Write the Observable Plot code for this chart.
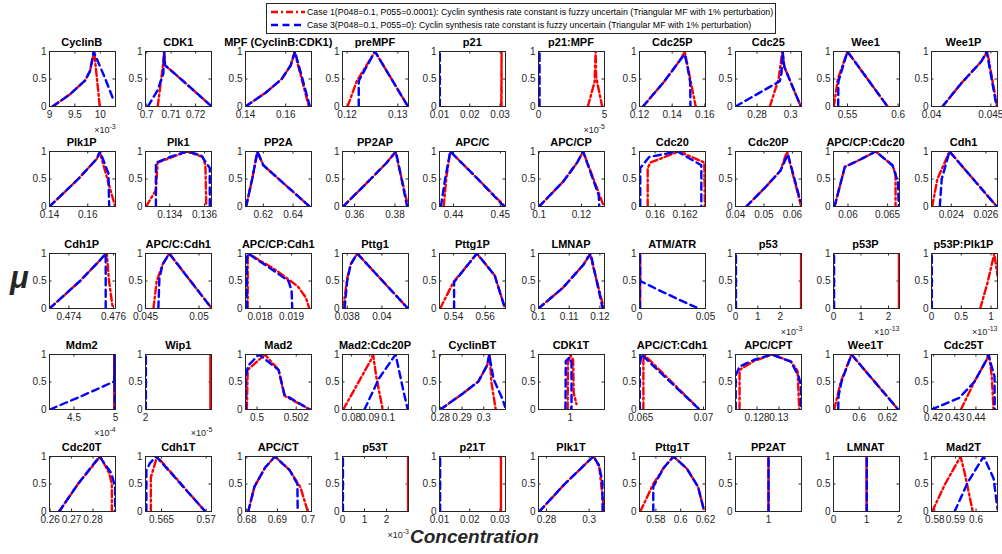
<!DOCTYPE html>
<html><head><meta charset="utf-8">
<script src="https://cdn.jsdelivr.net/npm/d3@7"></script>
<script src="https://cdn.jsdelivr.net/npm/@observablehq/plot@0.6"></script>
<style>
body{margin:0;background:#fff;}
#fig{position:relative;width:1002px;height:554px;overflow:hidden;background:#fff;font-family:"Liberation Sans",Arial,sans-serif;}
.ttl{position:absolute;font-weight:bold;font-size:11px;color:#000;white-space:nowrap;transform:translateX(-50%);line-height:11px;}
.exp{position:absolute;font-size:9px;color:#262626;white-space:nowrap;transform:translateX(-100%);line-height:9px;}
.exp sup{font-size:7px;vertical-align:4px;line-height:0;}
#legend{position:absolute;left:266px;top:3px;width:508px;height:29px;border:1px solid #262626;background:#fff;}
.lrow{position:absolute;left:0;font-size:8.8px;color:#000;white-space:nowrap;line-height:10px;}
.lrow svg{position:absolute;left:3px;top:0;}
.lrow span{position:absolute;left:40px;top:0;}
</style></head><body><div id="fig"></div>
<script>
// ---------- data ----------
const titles = ["CyclinB","CDK1","MPF (CyclinB:CDK1)","preMPF","p21","p21:MPF","Cdc25P","Cdc25","Wee1","Wee1P",
"Plk1P","Plk1","PP2A","PP2AP","APC/C","APC/CP","Cdc20","Cdc20P","APC/CP:Cdc20","Cdh1",
"Cdh1P","APC/C:Cdh1","APC/CP:Cdh1","Pttg1","Pttg1P","LMNAP","ATM/ATR","p53","p53P","p53P:Plk1P",
"Mdm2","Wip1","Mad2","Mad2:Cdc20P","CyclinBT","CDK1T","APC/CT:Cdh1","APC/CPT","Wee1T","Cdc25T",
"Cdc20T","Cdh1T","APC/CT","p53T","p21T","Plk1T","Pttg1T","PP2AT","LMNAT","Mad2T"];

const xDomains = [[9,10.3],[0.6995,0.7265],[0.14,0.1728],[0.1191,0.1321],[0.01,0.0318],[0,5],[0.12,0.1604],[0.2672,0.3064],[0.5362,0.6013],[0.04,0.04556],
[0.14,0.1745],[0.1326,0.1364],[0.608,0.6524],[0.354,0.3867],[0.437,0.4511],[0.0997,0.1309],[0.15895,0.16338],[0.04,0.0632],[0.05817,0.0665],[0.02286,0.02667],
[0.47313,0.47609],[0.045,0.05117],[0.01754,0.01963],[0.03773,0.04153],[0.5312,0.5728],[0.1,0.1215],[0,0.05],[0,2.95],[0,2.4],[0,1.11],
[4.205,5.0],[2,2.9],[0.49941,0.50278],[0.0752,0.111],[0.2796,0.31],[0.971,1.031],[0.0649,0.07016],[0.12603,0.13206],[0.5819,0.6285],[0.419,0.4502],
[0.2597,0.2905],[0.5632,0.5706],[0.6796,0.7011],[0,3.0],[0.01,0.0318],[0.2762,0.3072],[0.5668,0.62],[0.5,1.5],[0,2],[0.5784,0.6104]];

const xTicks = [[9,9.5,10],[0.7,0.71,0.72],[0.14,0.16],[0.12,0.13],[0.01,0.02,0.03],[0,5],[0.12,0.14,0.16],[0.28,0.3],[0.55,0.6],[0.04,0.045],
[0.14,0.16],[0.134,0.136],[0.62,0.64],[0.36,0.38],[0.44,0.45],[0.1,0.12],[0.16,0.162],[0.04,0.05,0.06],[0.06,0.065],[0.024,0.026],
[0.474,0.476],[0.045,0.05],[0.018,0.019],[0.038,0.04],[0.54,0.56],[0.1,0.11,0.12],[0,0.05],[0,1,2],[0,1,2],[0,0.5,1],
[4.5,5],[2],[0.5,0.502],[0.08,0.09,0.1],[0.28,0.29,0.3],[1],[0.065,0.07],[0.128,0.13],[0.6,0.62],[0.42,0.43,0.44],
[0.26,0.27,0.28],[0.565,0.57],[0.68,0.69,0.7],[0,1,2],[0.01,0.02,0.03],[0.28,0.3],[0.58,0.6,0.62],[1],[0,1,2],[0.58,0.59,0.6]];

// axis multiplier exponent (×10^e), null if none
const exponents = [-3,null,null,null,null,-5,null,null,null,null,
null,null,null,null,null,null,null,null,null,null,
null,null,null,null,null,null,null,-3,-13,-13,
-4,-5,null,null,null,null,null,null,null,null,
null,null,null,-3,null,null,null,null,null,null];

const muTicks = [0,0.5,1];

// Case 1 (red dash-dot): [concentration, mu]
const case1 = [
[[9.06,0],[9.4,0.22],[9.7,0.47],[9.8,0.65],[9.88,1],[9.99,0]],
[[0.7045,0],[0.7065,0.7],[0.7072,1],[0.7075,0.75],[0.7165,0.4],[0.7266,0]],
[[0.14,0],[0.15,0.25],[0.158,0.5],[0.1625,0.75],[0.1643,1],[0.1715,0]],
[[0.1201,0],[0.1219,0.46],[0.1255,1],[0.132,0]],
[[0.0304,0],[0.0305,1],[0.0305,0]],
[[3.74,0],[4.25,0.45],[4.33,1],[4.36,0.55],[4.82,0]],
[[0.1221,0],[0.135,0.45],[0.145,0.85],[0.1477,1],[0.1544,0]],
[[0.2876,0],[0.2928,0.5],[0.295,1],[0.2962,0.72],[0.306,0]],
[[0.5365,0],[0.5405,0.5],[0.55,1],[0.5895,0]],
[[0.04093,0],[0.0425,0.42],[0.0442,0.82],[0.0447,1],[0.04553,0]],
[[0.14,0],[0.155,0.5],[0.1648,0.87],[0.1662,1],[0.1743,0]],
[[0.13264,0],[0.1332,0.3],[0.1333,0.8],[0.134,0.88],[0.135,1],[0.1359,0.9],[0.13605,0.75],[0.1361,0]],
[[0.6084,0],[0.6125,0.5],[0.616,1],[0.62,0.75],[0.6511,0]],
[[0.3543,0],[0.368,0.5],[0.376,0.8],[0.3802,1],[0.3865,0]],
[[0.4379,0],[0.4385,0.55],[0.4393,1],[0.4452,0.5],[0.451,0]],
[[0.1,0],[0.1113,0.45],[0.118,0.8],[0.1208,1],[0.1306,0]],
[[0.1595,0],[0.1595,0.7],[0.15968,0.8],[0.1616,1],[0.1633,0.8],[0.16334,0]],
[[0.0438,0],[0.0505,0.35],[0.0558,0.65],[0.0581,1],[0.0631,0]],
[[0.0583,0],[0.0596,0.72],[0.0615,0.85],[0.0635,1],[0.0656,0.75],[0.066,0.6],[0.066,0]],
[[0.0229,0],[0.0232,0.5],[0.0239,1],[0.02663,0]],
[[0.47313,0],[0.4745,0.5],[0.4754,0.88],[0.4757,1],[0.4758,0.5],[0.47597,0]],
[[0.04574,0],[0.04605,0.5],[0.0466,0.8],[0.04722,1],[0.0512,0]],
[[0.01761,0],[0.01761,0.9],[0.01763,1],[0.0185,0.7],[0.0192,0.4],[0.01945,0.2],[0.01956,0]],
[[0.03777,0],[0.038,0.55],[0.0382,0.8],[0.03858,1],[0.0415,0]],
[[0.5316,0],[0.54,0.48],[0.5548,1],[0.566,0.6],[0.5725,0]],
[[0.1,0],[0.108,0.38],[0.1147,0.8],[0.1167,1],[0.1213,0]],
[[0.0005,0],[0.0005,1],[0.0005,0]],
[[2.93,0],[2.93,1],[2.93,0]],
[[2.38,0],[2.38,1],[2.38,0]],
[[0.82,0],[0.95,0.5],[1.056,1],[1.11,0.6]],
[[4.985,0],[4.985,1],[4.985,0]],
[[2.885,0],[2.885,1],[2.885,0]],
[[0.49948,0],[0.49952,0.72],[0.5004,1],[0.5011,0.72],[0.5014,0.25],[0.5027,0]],
[[0.0756,0],[0.0906,0.9],[0.0918,1],[0.0935,0.6],[0.097,0]],
[[0.28,0],[0.29,0.28],[0.2975,0.51],[0.3015,0.8],[0.3027,1],[0.3035,0.5],[0.3055,0]],
[[0.9975,0],[0.9978,0.85],[1.0,1],[1.0025,0.9],[1.003,0.3],[1.0055,0.1]],
[[0.06521,0],[0.06521,0.9],[0.06525,1],[0.06968,0]],
[[0.1264,0],[0.1264,0.72],[0.1277,0.88],[0.1294,1],[0.1311,0.87],[0.1317,0.7],[0.13185,0]],
[[0.5824,0],[0.587,0.5],[0.5946,1],[0.6276,0]],
[[0.4329,0],[0.4392,0.5],[0.445,0.9],[0.4462,1],[0.4475,0.6],[0.4483,0]],
[[0.2642,0],[0.273,0.5],[0.2834,1],[0.2875,0.7],[0.2888,0.5],[0.2888,0]],
[[0.5638,0],[0.5638,0.62],[0.5645,1],[0.5699,0]],
[[0.6805,0],[0.6825,0.45],[0.686,0.8],[0.6892,1],[0.694,0.75],[0.6975,0.44],[0.6999,0]],
[[2.98,0],[2.98,1],[2.98,0]],
[[0.0303,0],[0.0303,1],[0.0303,0]],
[[0.2766,0],[0.2885,0.5],[0.3006,0.95],[0.3022,1],[0.3048,0.8],[0.307,0]],
[[0.5674,0],[0.5779,0.5],[0.5865,0.8],[0.5942,1],[0.605,0.78],[0.614,0.45],[0.619,0]],
[[1,0],[1,1],[1,0]],
[[1,0],[1,1],[1,0]],
[[0.5787,0],[0.585,0.5],[0.5925,1],[0.5945,0.7],[0.5984,0]]
];

// Case 3 (blue dashed): [concentration, mu]
const case3 = [
[[9.06,0],[9.4,0.22],[9.7,0.47],[9.8,0.65],[9.87,1],[10.1,0.5],[10.27,0.1]],
[[0.7005,0],[0.7045,0.3],[0.7068,0.6],[0.7071,1],[0.7075,0.75],[0.7165,0.4],[0.7266,0]],
[[0.14,0],[0.15,0.25],[0.158,0.5],[0.1625,0.75],[0.1646,1],[0.172,0]],
[[0.1223,0],[0.1223,0.46],[0.1225,0.5],[0.1255,1],[0.132,0]],
[[0.0101,0],[0.0101,1],[0.0101,0]],
[[0.08,0],[0.08,1],[0.08,0]],
[[0.1221,0],[0.135,0.45],[0.145,0.85],[0.1477,0.95],[0.1495,0.7],[0.151,0.45],[0.1512,0]],
[[0.2672,0],[0.2935,0.46],[0.2945,0.6],[0.2952,1],[0.2962,0.72],[0.306,0]],
[[0.5408,0],[0.541,0.45],[0.55,1],[0.5895,0]],
[[0.04093,0],[0.0425,0.42],[0.0442,0.82],[0.04465,1],[0.0454,0.1],[0.04548,0]],
[[0.14,0],[0.155,0.5],[0.1648,0.87],[0.1664,1],[0.1708,0.6],[0.1712,0]],
[[0.1332,0],[0.1332,0.8],[0.1334,0.82],[0.134,0.9],[0.135,1],[0.1358,0.93],[0.1363,0.7],[0.1363,0]],
[[0.6084,0],[0.6125,0.5],[0.616,1],[0.62,0.75],[0.6511,0]],
[[0.3543,0],[0.368,0.5],[0.376,0.8],[0.3805,1],[0.386,0]],
[[0.4373,0],[0.4382,0.5],[0.4393,1],[0.4452,0.5],[0.4508,0]],
[[0.1,0],[0.1113,0.45],[0.118,0.8],[0.1208,1],[0.1282,0.2],[0.1284,0]],
[[0.159,0],[0.159,0.7],[0.1596,0.9],[0.1615,1],[0.1631,0.75],[0.1631,0]],
[[0.0438,0],[0.0505,0.35],[0.0558,0.65],[0.0584,0.95],[0.0628,0.1]],
[[0.0583,0],[0.0596,0.72],[0.0615,0.85],[0.0635,1],[0.0656,0.75],[0.0663,0.45],[0.0664,0]],
[[0.02334,0],[0.02345,0.5],[0.0239,1],[0.02663,0]],
[[0.47313,0],[0.4745,0.5],[0.4754,0.88],[0.47565,1],[0.47565,0]],
[[0.0462,0],[0.0463,0.55],[0.0466,0.8],[0.04722,1],[0.0512,0]],
[[0.01758,0],[0.01758,0.9],[0.01762,1],[0.0184,0.7],[0.0189,0.5],[0.019,0.33],[0.01902,0]],
[[0.03785,0],[0.038,0.5],[0.0382,0.8],[0.03858,1],[0.0415,0]],
[[0.5404,0],[0.5404,0.48],[0.5548,1],[0.566,0.6],[0.5725,0]],
[[0.1,0],[0.108,0.38],[0.1147,0.8],[0.117,1],[0.1209,0]],
[[0.0003,0],[0.0003,1],[0.0006,0.5],[0.015,0.33],[0.03,0.16],[0.043,0.02]],
[[0.02,0],[0.02,1],[0.02,0]],
[[0.02,0],[0.02,1],[0.02,0]],
[[0.005,0],[0.005,1],[0.005,0]],
[[4.21,0],[4.6,0.25],[4.985,0.51],[4.99,1],[4.99,0]],
[[2.005,0],[2.005,1],[2.005,0]],
[[0.49942,0],[0.49942,0.6],[0.49955,0.8],[0.5001,1],[0.5011,0.72],[0.5014,0.27],[0.5027,0]],
[[0.0871,0],[0.0951,0.57],[0.104,1],[0.1083,0.33],[0.1106,0]],
[[0.28,0],[0.29,0.28],[0.2975,0.51],[0.3015,0.8],[0.3025,1],[0.3045,0.55],[0.3085,0.2],[0.3098,0.05]],
[[0.9955,0],[0.9958,0.88],[0.9995,0.95],[1.001,0.85],[1.001,0]],
[[0.06492,0],[0.06492,0.8],[0.06505,1],[0.06968,0]],
[[0.12605,0],[0.12605,0.62],[0.1264,0.78],[0.1277,0.9],[0.1293,1],[0.1311,0.87],[0.1318,0.6],[0.132,0.45],[0.132,0]],
[[0.5852,0],[0.5855,0.25],[0.5875,0.5],[0.5946,1],[0.6276,0]],
[[0.419,0],[0.4321,0.21],[0.4392,0.5],[0.445,0.9],[0.4458,1],[0.4488,0.6],[0.4489,0]],
[[0.2642,0],[0.273,0.5],[0.283,1],[0.2885,0.7],[0.2903,0.45],[0.2903,0]],
[[0.5633,0],[0.5633,0.75],[0.5637,0.88],[0.5644,1],[0.5699,0]],
[[0.6805,0],[0.6825,0.45],[0.686,0.8],[0.6892,1],[0.694,0.75],[0.6965,0.5],[0.6966,0]],
[[0.02,0],[0.02,1],[0.02,0]],
[[0.0102,0],[0.0102,1],[0.0102,0]],
[[0.2766,0],[0.2885,0.5],[0.3006,0.95],[0.302,1],[0.3045,0.85],[0.3062,0.55],[0.3063,0]],
[[0.5779,0],[0.5779,0.45],[0.5865,0.8],[0.5942,1],[0.605,0.78],[0.614,0.45],[0.619,0]],
[[1,0],[1,1],[1,0]],
[[1.01,0],[1.01,1],[1.01,0]],
[[0.5896,0],[0.596,0.53],[0.6037,1],[0.6085,0.6],[0.6104,0.05]]
];

const legendLabels = [
"Case 1(P048=0.1, P055=0.0001): Cyclin synthesis rate constant is fuzzy uncertain (Triangular MF with 1% perturbation)",
"Case 3(P048=0.1, P055=0): Cyclin synthesis rate constant is fuzzy uncertain (Triangular MF with 1% perturbation)"
];

// ---------- layout / style ----------
const RED = "#ff0000", BLUE = "#0000ff", AX = "#262626";
const RED_DASH = "7,3,2,3", BLUE_DASH = "7,4.5";
const colLeft = [48.7,145.3,245.3,342,439.3,538,639.3,735.3,832.5,930.5];
const rowTop = [50.7,151,252.7,354.3,456];
const BW = 66, BH = 55, ML = 30, MR = 8, MT = 4, MB = 18;

const fig = document.getElementById("fig");

titles.forEach((t, i) => {
  const r = Math.floor(i / 10), c = i % 10;
  const left = colLeft[c], top = rowTop[r];
  const xt = xTicks[i];
  const svg = Plot.plot({
    width: BW + ML + MR, height: BH + MT + MB,
    marginLeft: ML, marginRight: MR, marginTop: MT, marginBottom: MB,
    style: {fontFamily: "'Liberation Sans', Arial, sans-serif", fontSize: "10px", color: AX, background: "transparent", overflow: "visible"},
    x: {domain: xDomains[i]},
    y: {domain: [0, 1]},
    marks: [
      Plot.axisX({ticks: xt, tickSize: 0, tickPadding: 4, tickFormat: d => String(d), label: null}),
      Plot.axisY({ticks: muTicks, tickSize: 0, tickPadding: 3, tickFormat: d => String(d), label: null}),
      Plot.tickX(xt, {x: d => d, stroke: AX, insetTop: BH - 2.5}),
      Plot.tickX(xt, {x: d => d, stroke: AX, insetBottom: BH - 2.5}),
      Plot.tickY(muTicks, {y: d => d, stroke: AX, insetRight: BW - 2.5}),
      Plot.tickY(muTicks, {y: d => d, stroke: AX, insetLeft: BW - 2.5}),
      Plot.line(case1[i], {x: d => d[0], y: d => d[1], stroke: RED, strokeWidth: 2.4, strokeDasharray: RED_DASH, clip: true}),
      Plot.line(case3[i], {x: d => d[0], y: d => d[1], stroke: BLUE, strokeWidth: 2.4, strokeDasharray: BLUE_DASH, clip: true}),
      Plot.frame({stroke: AX, strokeWidth: 1})
    ]
  });
  svg.style.position = "absolute";
  svg.style.left = (left - ML) + "px";
  svg.style.top = (top - MT) + "px";
  svg.style.maxWidth = "none";
  fig.appendChild(svg);

  const tt = document.createElement("div");
  tt.className = "ttl";
  tt.textContent = t;
  tt.style.left = (left + BW / 2) + "px";
  tt.style.top = (top - 14) + "px";
  fig.appendChild(tt);

  if (exponents[i] !== null) {
    const ex = document.createElement("div");
    ex.className = "exp";
    ex.innerHTML = "\u00d710<sup>" + exponents[i] + "</sup>";
    ex.style.left = (left + BW + 1) + "px";
    ex.style.top = (top + BH + 20) + "px";
    fig.appendChild(ex);
  }
});

// legend
const lg = document.createElement("div");
lg.id = "legend";
[[RED, RED_DASH], [BLUE, BLUE_DASH]].forEach(([col, dash], k) => {
  const row = document.createElement("div");
  row.className = "lrow";
  row.style.top = (3 + k * 13) + "px";
  row.style.width = "506px";
  row.style.height = "10px";
  row.innerHTML = `<svg width="36" height="10"><line x1="1" x2="35" y1="5" y2="5" stroke="${col}" stroke-width="2.4" stroke-dasharray="${dash}"/></svg><span>${legendLabels[k]}</span>`;
  lg.appendChild(row);
});
fig.appendChild(lg);

// axis labels
const yl = document.createElement("div");
yl.textContent = "\u03bc";
Object.assign(yl.style, {position: "absolute", left: "10px", top: "262px", fontSize: "31px", fontStyle: "italic", fontWeight: "bold", color: AX, lineHeight: "31px"});
fig.appendChild(yl);
const xl = document.createElement("div");
xl.textContent = "Concentration";
Object.assign(xl.style, {position: "absolute", left: "410px", top: "526px", fontSize: "19px", fontStyle: "italic", fontWeight: "bold", color: AX, lineHeight: "22px"});
fig.appendChild(xl);
</script></body></html>
